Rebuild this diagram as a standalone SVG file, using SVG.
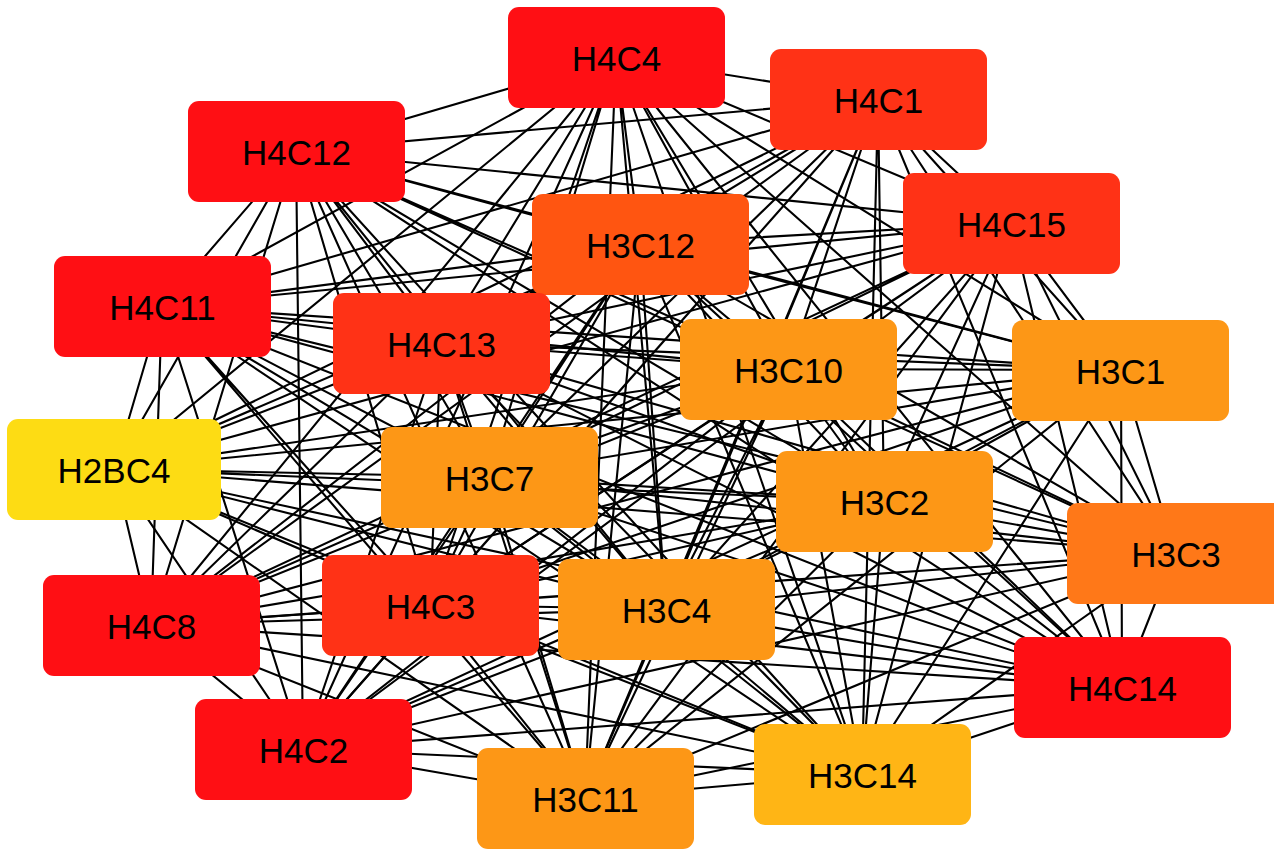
<svg xmlns="http://www.w3.org/2000/svg" width="1274" height="850" viewBox="0 0 1274 850">
<style>
.e{stroke:#000;stroke-width:2.1;fill:none}
.n rect{rx:11;ry:11}
.n text{font-family:"Liberation Sans",Arial,sans-serif;font-size:35px;text-anchor:middle;fill:#000}
.r{fill:#FF0F14}.or{fill:#FF3216}.o5{fill:#FF5511}.o7{fill:#FF7818}.o{fill:#FD9716}.oy{fill:#FFB515}.y{fill:#FDDC14}
</style>
<rect width="1274" height="850" fill="#fff"/>
<g id="edges" class="e">
<path d="M616 57L878 99M616 57L296 151M616 57L1011 223M616 57L640 244M616 57L162 306M616 57L441 343M616 57L788 369M616 57L1121 370M616 57L114 469M616 57L489 477M616 57L884 501M616 57L1175 553M616 57L151 625M616 57L430 605M616 57L666 609M616 57L1122 687M616 57L303 749M616 57L862 774M616 57L585 798"/>
<path d="M878 99L296 151M878 99L1011 223M878 99L640 244M878 99L162 306M878 99L441 343M878 99L788 369M878 99L1121 370M878 99L114 469M878 99L489 477M878 99L884 501M878 99L1175 553M878 99L151 625M878 99L430 605M878 99L666 609M878 99L1122 687M878 99L303 749M878 99L862 774M878 99L585 798"/>
<path d="M296 151L1011 223M296 151L640 244M296 151L162 306M296 151L441 343M296 151L788 369M296 151L1121 370M296 151L114 469M296 151L489 477M296 151L884 501M296 151L1175 553M296 151L151 625M296 151L430 605M296 151L666 609M296 151L1122 687M296 151L303 749M296 151L862 774M296 151L585 798"/>
<path d="M1011 223L640 244M1011 223L162 306M1011 223L441 343M1011 223L788 369M1011 223L1121 370M1011 223L114 469M1011 223L489 477M1011 223L884 501M1011 223L1175 553M1011 223L151 625M1011 223L430 605M1011 223L666 609M1011 223L1122 687M1011 223L303 749M1011 223L862 774M1011 223L585 798"/>
<path d="M640 244L162 306M640 244L441 343M640 244L788 369M640 244L1121 370M640 244L114 469M640 244L489 477M640 244L884 501M640 244L1175 553M640 244L151 625M640 244L430 605M640 244L666 609M640 244L1122 687M640 244L303 749M640 244L862 774M640 244L585 798"/>
<path d="M162 306L441 343M162 306L788 369M162 306L1121 370M162 306L114 469M162 306L489 477M162 306L884 501M162 306L1175 553M162 306L151 625M162 306L430 605M162 306L666 609M162 306L1122 687M162 306L303 749M162 306L862 774M162 306L585 798"/>
<path d="M441 343L788 369M441 343L1121 370M441 343L114 469M441 343L489 477M441 343L884 501M441 343L1175 553M441 343L151 625M441 343L430 605M441 343L666 609M441 343L1122 687M441 343L303 749M441 343L862 774M441 343L585 798"/>
<path d="M788 369L1121 370M788 369L114 469M788 369L489 477M788 369L884 501M788 369L1175 553M788 369L151 625M788 369L430 605M788 369L666 609M788 369L1122 687M788 369L303 749M788 369L862 774M788 369L585 798"/>
<path d="M1121 370L114 469M1121 370L489 477M1121 370L884 501M1121 370L1175 553M1121 370L151 625M1121 370L430 605M1121 370L666 609M1121 370L1122 687M1121 370L303 749M1121 370L862 774M1121 370L585 798"/>
<path d="M114 469L489 477M114 469L884 501M114 469L1175 553M114 469L151 625M114 469L430 605M114 469L666 609M114 469L1122 687M114 469L303 749M114 469L862 774M114 469L585 798"/>
<path d="M489 477L884 501M489 477L1175 553M489 477L151 625M489 477L430 605M489 477L666 609M489 477L1122 687M489 477L303 749M489 477L862 774M489 477L585 798"/>
<path d="M884 501L1175 553M884 501L151 625M884 501L430 605M884 501L666 609M884 501L1122 687M884 501L303 749M884 501L862 774M884 501L585 798"/>
<path d="M1175 553L151 625M1175 553L430 605M1175 553L666 609M1175 553L1122 687M1175 553L303 749M1175 553L862 774M1175 553L585 798"/>
<path d="M151 625L430 605M151 625L666 609M151 625L1122 687M151 625L303 749M151 625L862 774M151 625L585 798"/>
<path d="M430 605L666 609M430 605L1122 687M430 605L303 749M430 605L862 774M430 605L585 798"/>
<path d="M666 609L1122 687M666 609L303 749M666 609L862 774M666 609L585 798"/>
<path d="M1122 687L303 749M1122 687L862 774M1122 687L585 798"/>
<path d="M303 749L862 774M303 749L585 798"/>
<path d="M862 774L585 798"/>
</g>
<g id="H4C4" class="n"><rect class="r" x="508" y="7" width="217" height="101"/><text x="616.5" y="71">H4C4</text></g>
<g id="H4C1" class="n"><rect class="or" x="770" y="49" width="217" height="101"/><text x="878.5" y="113">H4C1</text></g>
<g id="H4C12" class="n"><rect class="r" x="188" y="101" width="217" height="101"/><text x="296.5" y="165">H4C12</text></g>
<g id="H4C15" class="n"><rect class="or" x="903" y="173" width="217" height="101"/><text x="1011.5" y="237">H4C15</text></g>
<g id="H3C12" class="n"><rect class="o5" x="532" y="194" width="217" height="101"/><text x="640.5" y="258">H3C12</text></g>
<g id="H4C11" class="n"><rect class="r" x="54" y="256" width="217" height="101"/><text x="162.5" y="320">H4C11</text></g>
<g id="H4C13" class="n"><rect class="or" x="333" y="293" width="217" height="101"/><text x="441.5" y="357">H4C13</text></g>
<g id="H3C10" class="n"><rect class="o" x="680" y="319" width="217" height="101"/><text x="788.5" y="383">H3C10</text></g>
<g id="H3C1" class="n"><rect class="o" x="1012" y="320" width="217" height="101"/><text x="1120.5" y="384">H3C1</text></g>
<g id="H2BC4" class="n"><rect class="y" x="7" y="419" width="214" height="101"/><text x="114" y="483">H2BC4</text></g>
<g id="H3C7" class="n"><rect class="o" x="381" y="427" width="217" height="101"/><text x="489.5" y="491">H3C7</text></g>
<g id="H3C2" class="n"><rect class="o" x="776" y="451" width="217" height="101"/><text x="884.5" y="515">H3C2</text></g>
<g id="H3C3" class="n"><rect class="o7" x="1067" y="503" width="217" height="101"/><text x="1176" y="567">H3C3</text></g>
<g id="H4C8" class="n"><rect class="r" x="43" y="575" width="217" height="101"/><text x="151.5" y="639">H4C8</text></g>
<g id="H4C3" class="n"><rect class="or" x="322" y="555" width="217" height="101"/><text x="430.5" y="619">H4C3</text></g>
<g id="H3C4" class="n"><rect class="o" x="558" y="559" width="217" height="101"/><text x="666.5" y="623">H3C4</text></g>
<g id="H4C14" class="n"><rect class="r" x="1014" y="637" width="217" height="101"/><text x="1122.5" y="701">H4C14</text></g>
<g id="H4C2" class="n"><rect class="r" x="195" y="699" width="217" height="101"/><text x="303.5" y="763">H4C2</text></g>
<g id="H3C14" class="n"><rect class="oy" x="754" y="724" width="217" height="101"/><text x="862.5" y="788">H3C14</text></g>
<g id="H3C11" class="n"><rect class="o" x="477" y="748" width="217" height="101"/><text x="585.5" y="812">H3C11</text></g>
</svg>
